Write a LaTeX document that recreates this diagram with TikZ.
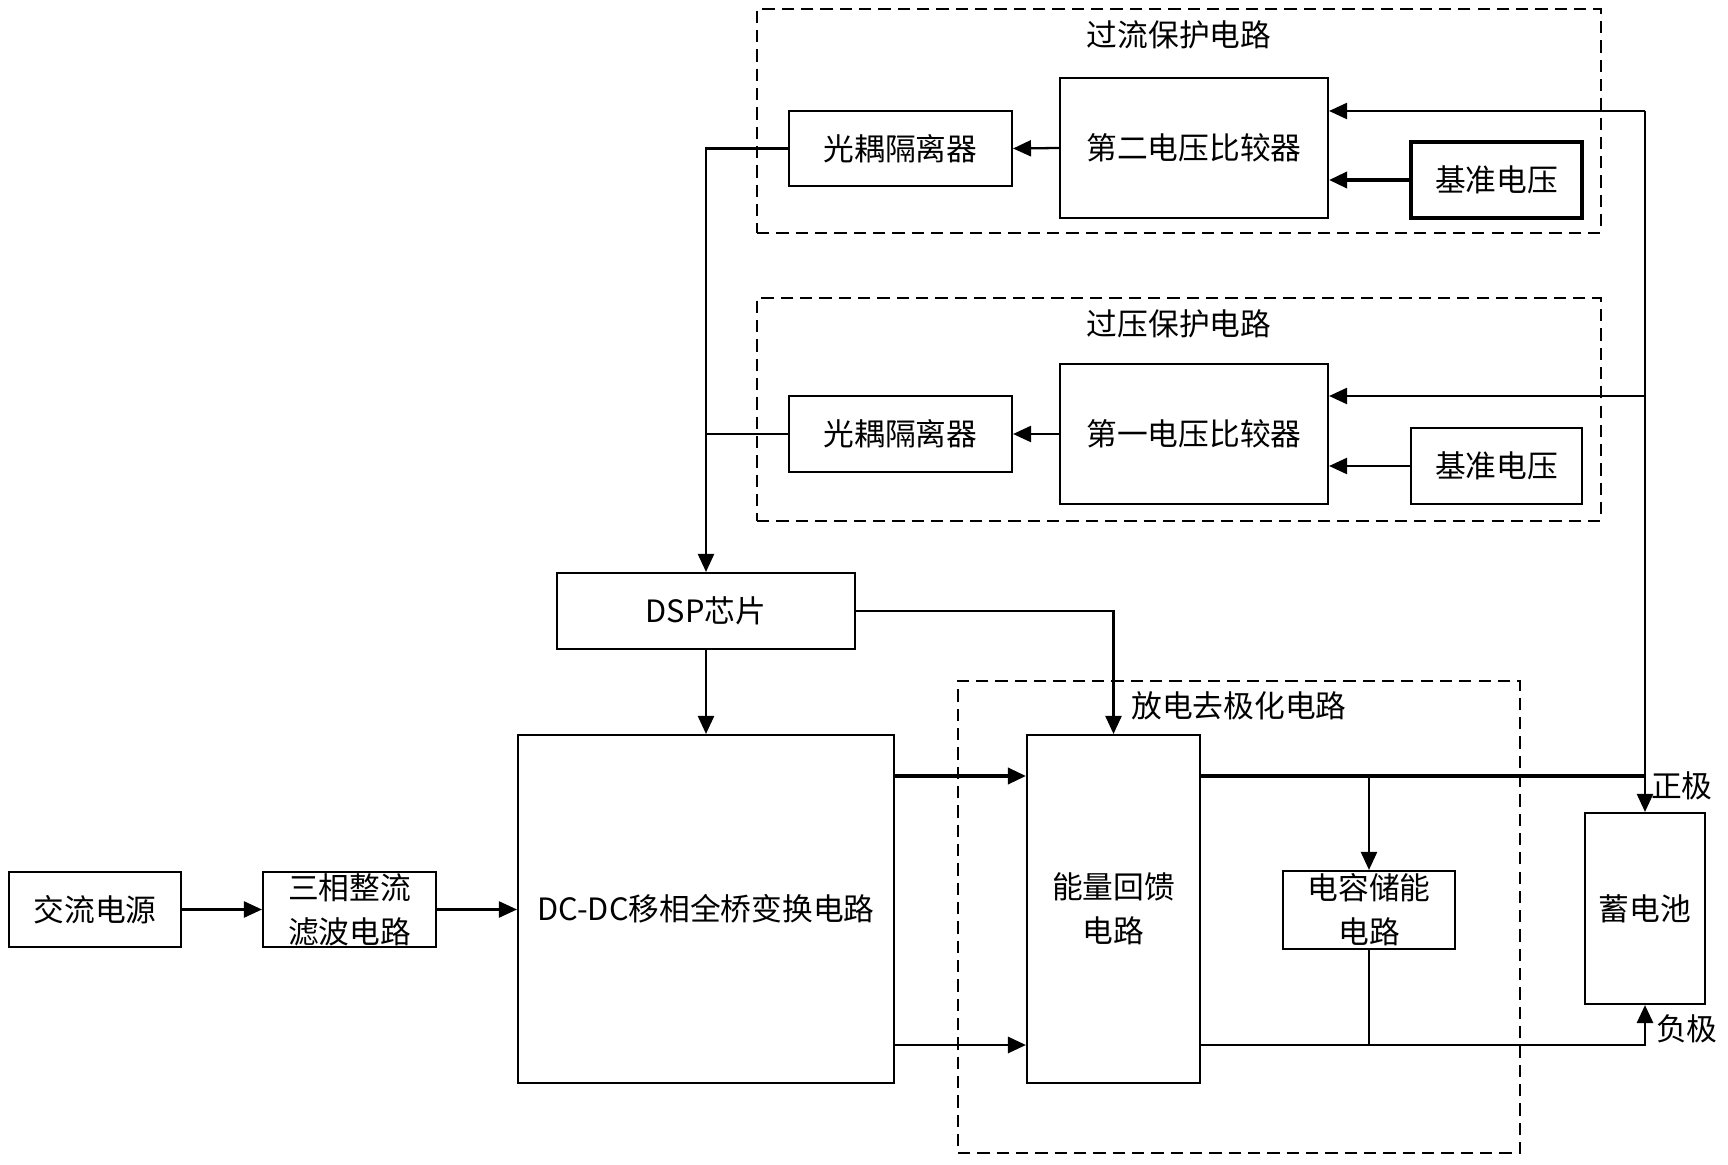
\documentclass[tikz,border=0pt]{standalone}
\usepackage{fontspec}
\setmainfont{Noto Sans CJK SC}
\usetikzlibrary{arrows.meta,positioning}
\tikzset{%
  arrow/.style={line width=1.3pt,-{Triangle[length=0.36cm,width=0.32cm]}},
  wire/.style={line width=1.3pt},
  block/.style={rectangle,draw,line width=1.2pt,align=center,inner sep=0pt,font=\fontsize{17.5}{25}\selectfont},
  group/.style={rectangle,draw,line width=1.2pt,dash pattern=on 7pt off 4pt},
  title/.style={font=\fontsize{17.5}{25}\selectfont},
}

\begin{document}
\begin{tikzpicture}[x=0.02cm,y=-0.02cm]
      \useasboundingbox (0,0) rectangle (1728,1165);

      \node[group,minimum width=16.88cm,minimum height=4.48cm] (ocp) at (1179,121) {};
      \node[title] (ocptitle) at (1179,35) {过流保护电路};
      \node[block,minimum width=4.46cm,minimum height=1.5cm] (optoA) at (900.5,148.5) {光耦隔离器};
      \node[block,minimum width=5.36cm,minimum height=2.8cm] (cmpA) at (1194,148) {第二电压比较器};
      \node[block,line width=2pt,minimum width=3.42cm,minimum height=1.52cm] (refA) at (1496.5,180) {基准电压};

      \node[group,minimum width=16.88cm,minimum height=4.46cm] (ovp) at (1179,409.5) {};
      \node[title] (ovptitle) at (1179,324) {过压保护电路};
      \node[block,minimum width=4.46cm,minimum height=1.52cm] (optoB) at (900.5,434) {光耦隔离器};
      \node[block,minimum width=5.36cm,minimum height=2.8cm] (cmpB) at (1194,434) {第一电压比较器};
      \node[block,minimum width=3.42cm,minimum height=1.52cm] (refB) at (1496.5,466) {基准电压};

      \node[block,minimum width=5.96cm,minimum height=1.52cm] (dsp) at (706,611) {DSP芯片};
      \node[block,minimum width=7.52cm,minimum height=6.96cm] (dcdc) at (706,909) {DC-DC移相全桥变换电路};
      \node[block,minimum width=3.44cm,minimum height=1.5cm] (ac) at (95,909.5) {交流电源};
      \node[block,minimum width=3.46cm,minimum height=1.5cm] (rect) at (349.5,909.5) {三相整流\\滤波电路};

      \node[group,minimum width=11.24cm,minimum height=9.44cm] (depol) at (1239,917) {};
      \node[title] (depoltitle) at (1239,706) {放电去极化电路};
      \node[block,minimum width=3.46cm,minimum height=6.96cm] (feed) at (1113.5,909) {能量回馈\\电路};
      \node[block,minimum width=3.44cm,minimum height=1.56cm] (cap) at (1369,910) {电容储能\\电路};
      \node[block,minimum width=2.4cm,minimum height=3.82cm] (batt) at (1645,908.5) {蓄电池};

      \coordinate (tapA) at (1645,111);
      \coordinate (tapB) at (1645,396);
      \coordinate (pos) at (1645,776);
      \coordinate (neg) at (1645,1045);
      \node[title,anchor=west] (poslabel) at (1645,786) {正极};
      \node[title,anchor=west] (neglabel) at (1650,1029) {负极};

      \draw[arrow] (cmpA.west) -- (optoA.east);
      \draw[arrow,line width=2pt] (refA.west) -- (refA.west -| cmpA.east);
      \draw[arrow] (tapA) -- (tapA -| cmpA.east);
      \draw[arrow] (cmpB.west) -- (optoB.east);
      \draw[arrow] (refB.west) -- (refB.west -| cmpB.east);
      \draw[arrow] (tapB) -- (tapB -| cmpB.east);
      \draw[arrow] (tapA) -- (batt.north);

      \draw[arrow] (optoA.west) -| (dsp.north);
      \draw[wire] (optoB.west) -- (optoB.west -| dsp.north);
      \draw[arrow] (dsp.south) -- (dcdc.north);
      \draw[arrow] (dsp.east) -| (feed.north);

      \draw[arrow] (ac.east) -- (rect.west);
      \draw[arrow] (rect.east) -- (rect.east -| dcdc.west);

      \draw[arrow,line width=2pt] (dcdc.east |- pos) -- (feed.west |- pos);
      \draw[arrow,line width=1.6pt] (dcdc.east |- neg) -- (feed.west |- neg);
      \draw[wire,line width=2pt] (feed.east |- pos) -- (pos);
      \draw[arrow] (cap.north |- pos) -- (cap.north);
      \draw[wire] (cap.south) -- (cap.south |- neg);
      \draw[arrow,line width=1.6pt] (feed.east |- neg) -- (neg) -- (batt.south);
    \end{tikzpicture}
\end{document}
